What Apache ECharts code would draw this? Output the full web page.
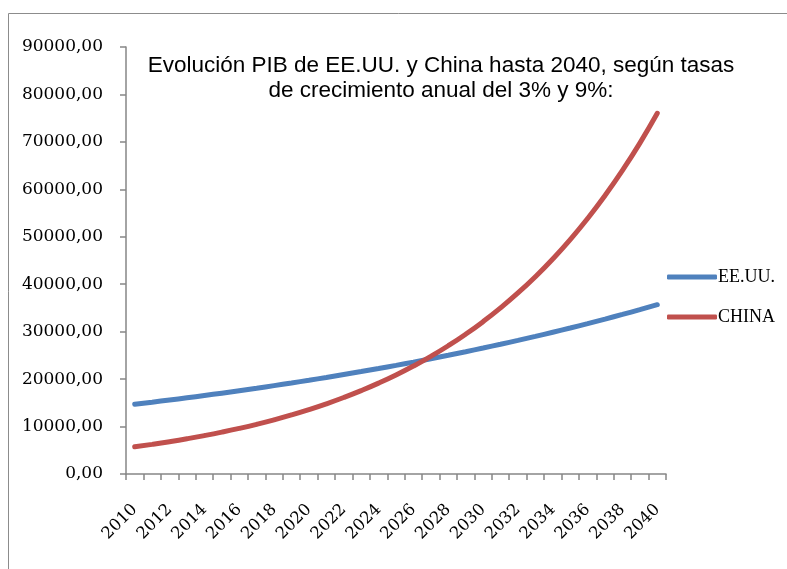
<!DOCTYPE html>
<html><head><meta charset="utf-8">
<script src="https://cdn.jsdelivr.net/npm/echarts@6/dist/echarts.min.js"></script>
<style>html,body{margin:0;padding:0;background:#fff}#c{width:787px;height:569px}</style>
</head><body><div id="c"></div>
<script>
const years = ['2010','2011','2012','2013','2014','2015','2016','2017','2018','2019','2020','2021','2022','2023','2024','2025','2026','2027','2028','2029','2030','2031','2032','2033','2034','2035','2036','2037','2038','2039','2040'];
const usa = [14700,15141,15595,16063,16545,17041,17553,18079,18622,19180,19755,20348,20959,21587,22235,22902,23589,24297,25026,25776,26550,27346,28166,29011,29882,30778,31702,32653,33632,34641,35681];
const china = [5730,6246,6808,7420,8088,8816,9610,10474,11417,12445,13565,14786,16117,17567,19148,20872,22750,24798,27030,29462,32114,35004,38154,41588,45331,49411,53858,58705,63989,69748,76025];
const titleLines = ['Evolución PIB de EE.UU. y China hasta 2040, según tasas','de crecimiento anual del 3% y 9%:'];
const seriesNames = ['EE.UU.','CHINA'];

const chart = echarts.init(document.getElementById('c'));
const serif = 'DejaVu Serif';
chart.setOption({
  animation:false,
  graphic:[{type:'rect',shape:{x:8.5,y:13.5,width:900,height:700},style:{fill:'none',stroke:'#8c8c8c',lineWidth:1},silent:true}],
  title:{text:titleLines.join('\n'),left:436,textAlign:'center',top:48,
    textStyle:{fontFamily:'Liberation Sans',fontSize:22.5,fontWeight:'normal',color:'#000',lineHeight:25}},
  legend:{orient:'vertical',left:662,top:263,itemWidth:50,itemHeight:5,itemGap:22,
    icon:'roundRect',
    textStyle:{fontFamily:'Liberation Serif',fontSize:18,color:'#000',padding:[0,0,0,-4]},data:seriesNames},
  grid:{left:126,top:47,right:121,bottom:95,containLabel:false},
  xAxis:{type:'category',data:years,boundaryGap:true,
    axisLine:{lineStyle:{color:'#868686',width:1.5}},
    axisTick:{show:true,interval:0,length:6,lineStyle:{color:'#868686',width:1.5}},
    axisLabel:{interval:1,rotate:45,fontFamily:serif,fontSize:16.5,color:'#000',margin:33},
    splitLine:{show:false}},
  yAxis:{type:'value',min:0,max:90000,interval:10000,
    axisLine:{show:true,lineStyle:{color:'#868686',width:1.5}},
    axisTick:{show:true,length:6,lineStyle:{color:'#868686',width:1.5}},
    axisLabel:{fontFamily:serif,fontSize:17,color:'#000',margin:23,
      formatter:v=>v.toFixed(2).replace('.',',')},
    splitLine:{show:false}},
  series:[
    {name:seriesNames[0],type:'line',data:usa,symbol:'none',smooth:true,lineStyle:{color:'#4F81BD',width:5,cap:'round'},itemStyle:{color:'#4F81BD'}},
    {name:seriesNames[1],type:'line',data:china,symbol:'none',smooth:true,lineStyle:{color:'#C0504D',width:5,cap:'round'},itemStyle:{color:'#C0504D'}}
  ]
});
</script></body></html>
